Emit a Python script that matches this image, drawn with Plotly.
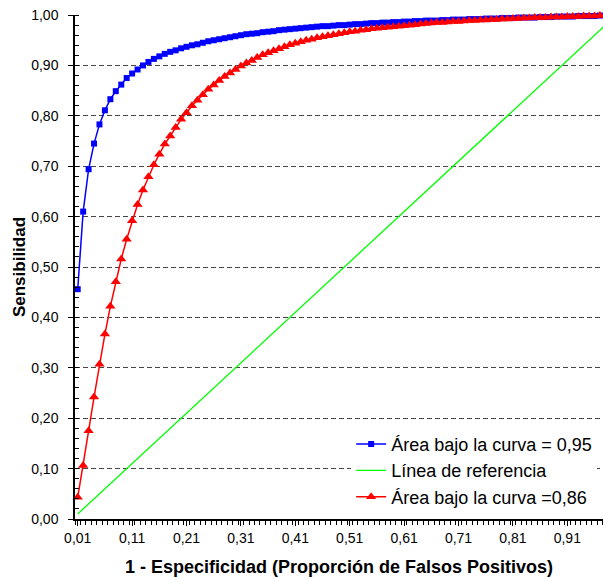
import plotly.graph_objects as go

# 1 - Especificidad (categorías del eje X)
fpr = [0.01, 0.02, 0.03, 0.04, 0.05, 0.06, 0.07, 0.08, 0.09, 0.10,
       0.11, 0.12, 0.13, 0.14, 0.15, 0.16, 0.17, 0.18, 0.19, 0.20,
       0.21, 0.22, 0.23, 0.24, 0.25, 0.26, 0.27, 0.28, 0.29, 0.30,
       0.31, 0.32, 0.33, 0.34, 0.35, 0.36, 0.37, 0.38, 0.39, 0.40,
       0.41, 0.42, 0.43, 0.44, 0.45, 0.46, 0.47, 0.48, 0.49, 0.50,
       0.51, 0.52, 0.53, 0.54, 0.55, 0.56, 0.57, 0.58, 0.59, 0.60,
       0.61, 0.62, 0.63, 0.64, 0.65, 0.66, 0.67, 0.68, 0.69, 0.70,
       0.71, 0.72, 0.73, 0.74, 0.75, 0.76, 0.77, 0.78, 0.79, 0.80,
       0.81, 0.82, 0.83, 0.84, 0.85, 0.86, 0.87, 0.88, 0.89, 0.90,
       0.91, 0.92, 0.93, 0.94, 0.95, 0.96, 0.97, 0.98, 0.99]

# Sensibilidad, curva con área = 0,95
sens_095 = [0.456, 0.610, 0.694, 0.745, 0.783, 0.811, 0.833, 0.849, 0.862, 0.875,
            0.884, 0.892, 0.900, 0.907, 0.913, 0.918, 0.923, 0.927, 0.930, 0.934,
            0.937, 0.940, 0.942, 0.945, 0.948, 0.950, 0.952, 0.954, 0.956, 0.958,
            0.960, 0.962, 0.963, 0.964, 0.966, 0.967, 0.968, 0.970, 0.971, 0.972,
            0.973, 0.974, 0.975, 0.976, 0.977, 0.978, 0.978, 0.979, 0.980, 0.980,
            0.981, 0.982, 0.982, 0.983, 0.984, 0.984, 0.985, 0.985, 0.986, 0.986,
            0.987, 0.987, 0.988, 0.988, 0.989, 0.989, 0.989, 0.990, 0.990, 0.991,
            0.991, 0.991, 0.992, 0.992, 0.992, 0.993, 0.993, 0.993, 0.994, 0.994,
            0.994, 0.995, 0.995, 0.995, 0.995, 0.996, 0.996, 0.996, 0.997, 0.997,
            0.997, 0.997, 0.998, 0.998, 0.998, 0.998, 0.999, 0.999, 0.999]

# Sensibilidad, curva con área = 0,86
sens_086 = [0.043, 0.106, 0.175, 0.242, 0.307, 0.367, 0.422, 0.471, 0.516, 0.555,
            0.592, 0.624, 0.653, 0.679, 0.703, 0.724, 0.744, 0.760, 0.777, 0.793,
            0.806, 0.820, 0.831, 0.842, 0.853, 0.861, 0.870, 0.878, 0.885, 0.892,
            0.899, 0.905, 0.910, 0.916, 0.921, 0.925, 0.929, 0.933, 0.937, 0.941,
            0.944, 0.947, 0.950, 0.952, 0.955, 0.957, 0.959, 0.961, 0.963, 0.965,
            0.967, 0.968, 0.970, 0.971, 0.973, 0.974, 0.975, 0.976, 0.977, 0.978,
            0.979, 0.980, 0.981, 0.982, 0.983, 0.984, 0.985, 0.985, 0.986, 0.987,
            0.987, 0.988, 0.989, 0.989, 0.990, 0.990, 0.991, 0.991, 0.992, 0.992,
            0.993, 0.993, 0.994, 0.994, 0.995, 0.995, 0.995, 0.996, 0.996, 0.996,
            0.997, 0.997, 0.997, 0.998, 0.998, 0.998, 0.999, 0.999, 0.999]

# Línea de referencia (sensibilidad = 1 - especificidad)
referencia = fpr

FONT = "Liberation Sans, Arial, sans-serif"

fig = go.Figure()
fig.add_trace(go.Scatter(
    x=fpr, y=sens_095, mode="lines+markers", name="Área bajo la curva = 0,95",
    line=dict(color="#0000FF", width=1.5),
    marker=dict(symbol="square", size=6, color="#0000FF"),
    cliponaxis=False))
fig.add_trace(go.Scatter(
    x=fpr, y=referencia, mode="lines", name="Línea de referencia",
    line=dict(color="#00FF00", width=1.3)))
fig.add_trace(go.Scatter(
    x=fpr, y=sens_086, mode="lines+markers", name="Área bajo la curva =0,86",
    line=dict(color="#FF0000", width=1.5),
    marker=dict(symbol="triangle-up", size=9, color="#FF0000"),
    cliponaxis=False))

fig.update_layout(
    width=603, height=577,
    margin=dict(l=75, r=0, t=15, b=58, autoexpand=False),
    paper_bgcolor="white", plot_bgcolor="white",
    separators=",.",
    font=dict(family=FONT, color="black", size=14),
    showlegend=True,
    legend=dict(x=0.523, y=0.185, xanchor="left", yanchor="top",
                bgcolor="white", borderwidth=0,
                font=dict(family=FONT, size=18, color="black"),
                itemwidth=30),
    xaxis=dict(
        range=[0.005, 0.9756],
        tick0=0.01, dtick=0.1, tickformat=".2f",
        ticks="outside", ticklen=5, tickcolor="black",
        tickfont=dict(family=FONT, size=14, color="black"),
        showline=True, linecolor="black", linewidth=1.5,
        showgrid=False, zeroline=False, automargin=False,
        minor=dict(tick0=0.005, dtick=0.01, ticks="outside", ticklen=4,
                   tickcolor="black", showgrid=False),
        title=dict(text="<b>1 - Especificidad (Proporción de Falsos Positivos)</b>",
                   font=dict(family=FONT, size=18, color="black"), standoff=17),
    ),
    yaxis=dict(
        range=[0, 1.0001],
        tick0=0, dtick=0.1, tickformat=".2f",
        ticks="outside", ticklen=5, tickcolor="black",
        tickfont=dict(family=FONT, size=14, color="black"),
        ticklabelstandoff=7,
        showline=True, linecolor="black", linewidth=1.5,
        showgrid=True, gridcolor="#444444", gridwidth=1, griddash="5px,3px",
        zeroline=False, automargin=False,
        minor=dict(dtick=0.02, ticks="inside", ticklen=4,
                   tickcolor="black", showgrid=False),
        title=dict(text="<b>Sensibilidad</b>",
                   font=dict(family=FONT, size=17, color="black"), standoff=1),
    ),
)

fig.write_html(
    "out.html",
    config={"displayModeBar": False},
    post_script="document.body.style.margin='0';"
                "document.documentElement.style.overflow='hidden';"
                "document.body.style.overflow='hidden';",
)
